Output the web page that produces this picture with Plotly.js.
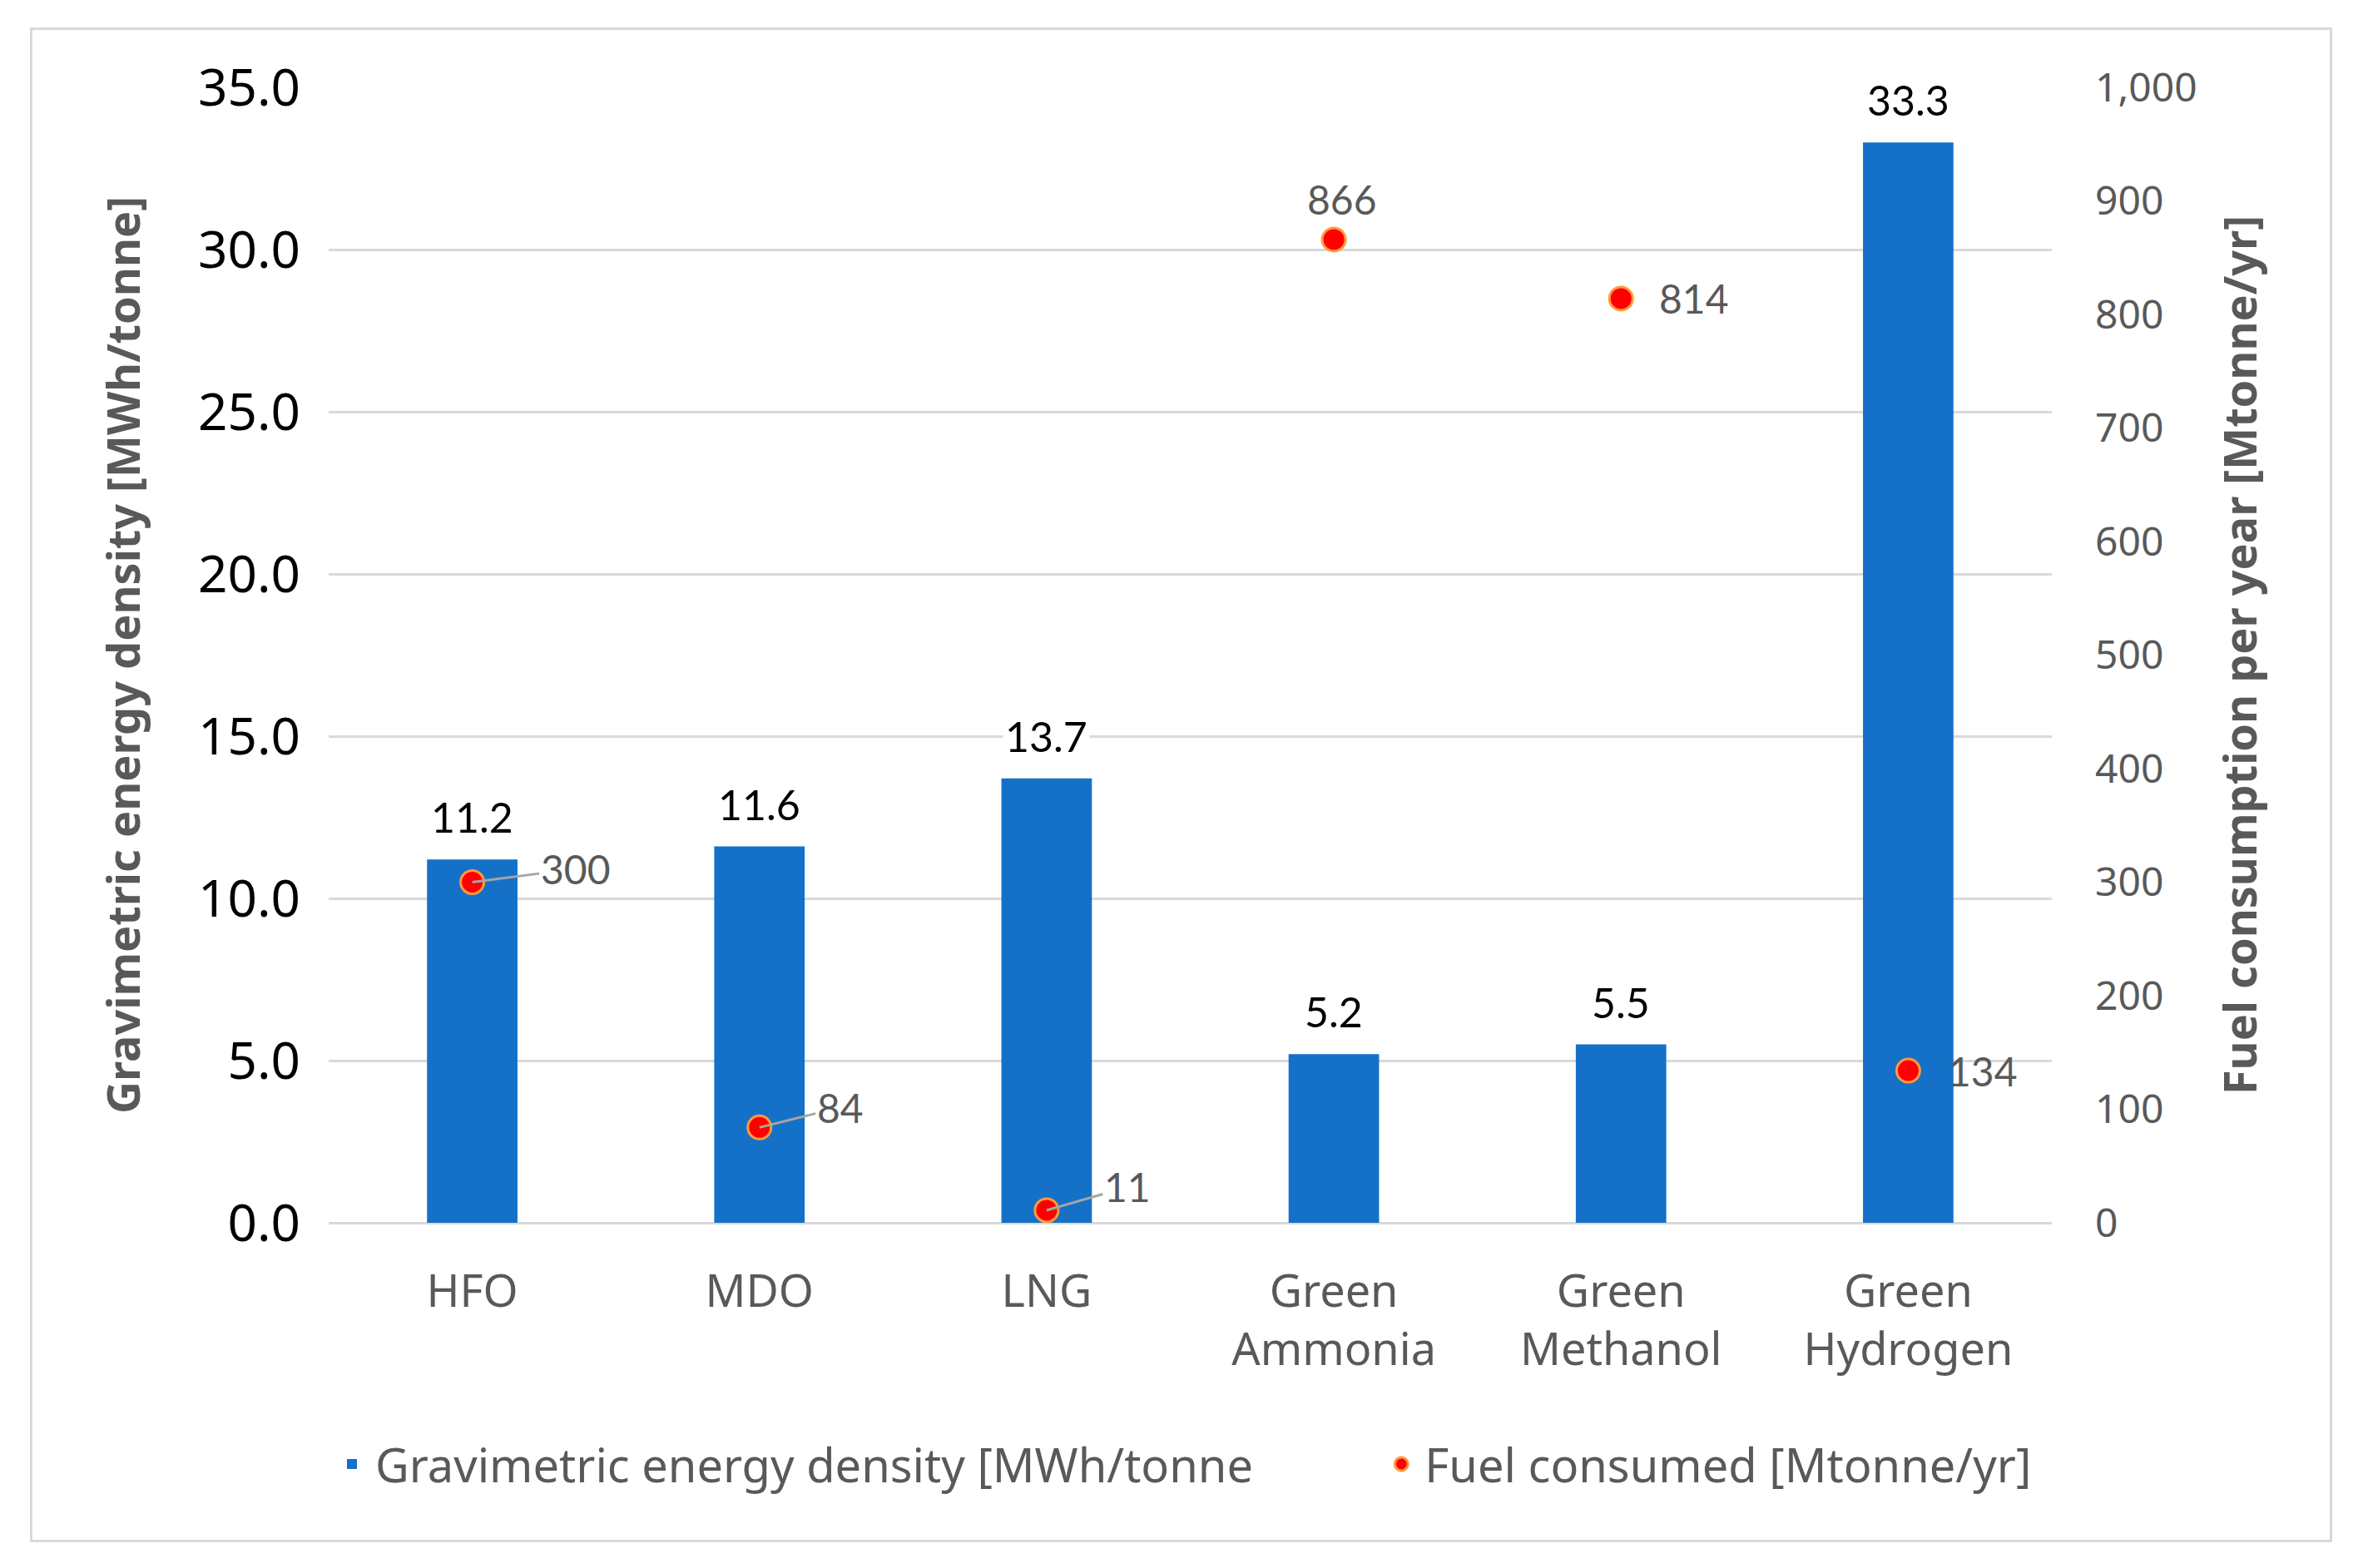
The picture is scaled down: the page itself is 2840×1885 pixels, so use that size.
<!DOCTYPE html>
<html>
<head>
<meta charset="utf-8">
<script src="https://cdn.plot.ly/plotly-3.0.1.min.js"></script>
<style>
  html, body { margin: 0; padding: 0; background: #ffffff; }
  #frame { position: absolute; left: 36px; top: 33px; width: 2767px; height: 1821px;
           box-sizing: border-box; border: 3px solid #d9d9d9; background: #fff; }
  #chart { width: 2761px; height: 1815px; }
</style>
</head>
<body>
<div id="frame"><div id="chart"></div></div>
<script>
// ---- data ----
const categories = ['HFO', 'MDO', 'LNG', 'Green<br>Ammonia', 'Green<br>Methanol', 'Green<br>Hydrogen'];
const energyDensity = [11.2, 11.6, 13.7, 5.2, 5.5, 33.3];   // MWh/tonne
const fuelConsumed = [300, 84, 11, 866, 814, 134];          // Mtonne/yr
const seriesNames = ['Gravimetric energy density [MWh/tonne', 'Fuel consumed [Mtonne/yr]'];
const axisTitles = ['Gravimetric energy density [MWh/tonne]', 'Fuel consumption per year [Mtonne/yr]'];

// ---- styles ----
const FONT = 'Noto Sans, Open Sans, sans-serif';
const LABEL_FONT = 'Lato, Noto Sans, sans-serif';
const GRAY = '#595959';
const BLUE = '#1571C8';
const GRID = '#D9D9D9';

// label placement for fuel labels (pixel offsets), styling only
const fuelLabelStyle = [
  {arrow: true, ax: 124, ay: -16},
  {arrow: true, ax: 97, ay: -24},
  {arrow: true, ax: 97, ay: -28},
  {arrow: false, xshift: 10, yshift: 18, yanchor: 'bottom', xanchor: 'center'},
  {arrow: false, xshift: 44, yshift: 0, yanchor: 'middle', xanchor: 'left'},
  {arrow: false, xshift: 46, yshift: 0, yanchor: 'middle', xanchor: 'left'}
];

const traces = [
  {
    type: 'bar', name: seriesNames[0], x: categories, y: energyDensity,
    marker: {color: BLUE}, yaxis: 'y', legend: 'legend'
  },
  {
    type: 'scatter', mode: 'markers', name: seriesNames[1], x: categories, y: fuelConsumed,
    yaxis: 'y2', legend: 'legend2',
    marker: {color: '#FF0000', size: 28, line: {color: '#FF9A3C', width: 3}}
  }
];

const annotations = [];
categories.forEach((c, i) => {
  annotations.push({
    x: c, y: energyDensity[i], xref: 'x', yref: 'y',
    text: energyDensity[i].toFixed(1), showarrow: false,
    yanchor: 'bottom', yshift: 18, bgcolor: '#ffffff', borderpad: 2,
    font: {family: LABEL_FONT, size: 50, color: '#000000'}
  });
});
categories.forEach((c, i) => {
  const s = fuelLabelStyle[i];
  const a = {
    x: c, y: fuelConsumed[i], xref: 'x', yref: 'y2',
    text: String(fuelConsumed[i]),
    font: {family: LABEL_FONT, size: 48, color: GRAY}
  };
  if (s.arrow) {
    Object.assign(a, {showarrow: true, ax: s.ax, ay: s.ay, arrowhead: 0,
      arrowwidth: 3, arrowcolor: '#A6A6A6', standoff: 0, startstandoff: 0});
  } else {
    Object.assign(a, {showarrow: false, xshift: s.xshift, yshift: s.yshift,
      xanchor: s.xanchor, yanchor: s.yanchor});
  }
  annotations.push(a);
});

const legendBase = {
  orientation: 'h', xanchor: 'left', y: -0.2125, yanchor: 'middle',
  font: {family: FONT, size: 56, color: GRAY}, itemwidth: 46
};

const layout = {
  width: 2761, height: 1815,
  margin: {l: 356, r: 334, t: 69, b: 381},
  paper_bgcolor: '#ffffff', plot_bgcolor: '#ffffff',
  font: {family: FONT, color: GRAY},
  bargap: 0.685,
  showlegend: true,
  legend: Object.assign({}, legendBase, {x: 0.0}),
  legend2: Object.assign({}, legendBase, {x: 0.609}),
  xaxis: {
    type: 'category', showgrid: false, showline: false, zeroline: false, ticks: '',
    tickfont: {family: FONT, size: 54, color: GRAY}, ticklabelstandoff: 46
  },
  yaxis: {
    range: [0, 35], dtick: 5, tickformat: '.1f', showgrid: true, gridcolor: GRID, gridwidth: 3,
    zeroline: true, zerolinecolor: GRID, zerolinewidth: 3, showline: false, ticks: '',
    tickfont: {family: FONT, size: 62, color: '#000000'}, ticklabelstandoff: 33,
    title: {text: axisTitles[0], standoff: 52,
      font: {family: FONT, size: 54, color: GRAY, weight: 'bold'}}
  },
  yaxis2: {
    range: [0, 1000], dtick: 100, tickformat: ',d', overlaying: 'y', side: 'right',
    showgrid: false, zeroline: false, showline: false, ticks: '',
    tickfont: {family: FONT, size: 48, color: GRAY}, ticklabelstandoff: 51,
    title: {text: axisTitles[1], standoff: 34,
      font: {family: FONT, size: 54, color: GRAY, weight: 'bold'}}
  },
  annotations: annotations
};

Plotly.newPlot('chart', traces, layout, {displayModeBar: false, staticPlot: true});
</script>
</body>
</html>
